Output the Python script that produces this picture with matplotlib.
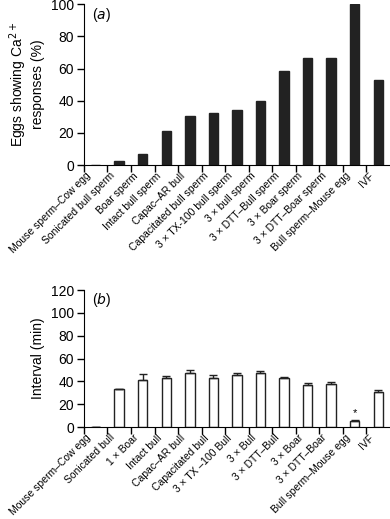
import numpy as np
import matplotlib.pyplot as plt

plt.rcParams['font.family'] = ['Liberation Sans', 'DejaVu Sans']
plt.rcParams['font.size'] = 10

# (a) Eggs showing Ca2+ responses (%)
labels_a = ['Mouse sperm–Cow egg', 'Sonicated bull sperm', 'Boar sperm',
            'Intact bull sperm', 'Capac–AR bull', 'Capacitated bull sperm',
            '3 × TX-100 bull sperm', '3 × bull sperm', '3 × DTT–Bull sperm',
            '3 × Boar sperm', '3 × DTT–Boar sperm', 'Bull sperm–Mouse egg', 'IVF']
pct_a = [0, 2.7, 6.6, 21.1, 30.4, 32.5, 34.2, 39.5, 58.2, 66.5, 66.5, 100, 52.6]

# (b) Interval (min)
labels_b = ['Mouse sperm–Cow egg', 'Sonicated bull', '1 × Boar', 'Intact bull',
            'Capac–AR bull', 'Capacitated bull', '3 × TX –100 Bull', '3 × Bull',
            '3 × DTT–Bull', '3 × Boar', '3 × DTT–Boar', 'Bull sperm–Mouse egg', 'IVF']
interval_b = [0, 33.3, 41, 43.3, 47.4, 42.7, 45.3, 47.7, 42.7, 36.5, 38, 5, 30.4]
err_b = [0, 0, 5.5, 1.7, 2.3, 2.6, 2.1, 1.7, 1.2, 1.8, 1.8, 1.1, 2.1]

x = np.arange(len(labels_a))

fig = plt.figure(figsize=(3.9, 5.19), dpi=100)
ax1 = fig.add_axes([0.215, 0.682, 0.785, 0.310])
ax2 = fig.add_axes([0.215, 0.177, 0.785, 0.264])


def style_axis(ax, labels):
    for s in ('top', 'right'):
        ax.spines[s].set_visible(False)
    ax.set_xlim(-0.5, len(x) - 0.5)
    ax.tick_params(axis='y', direction='out', length=5, width=1, pad=2)
    # tick marks between bars, labels a bit to the right of each mark
    ax.set_xticks(x - 0.5)
    ax.set_xticklabels([])
    ax.tick_params(axis='x', which='major', direction='out', length=5, width=1)
    ax.set_xticks(x - 0.12, minor=True)
    ax.set_xticklabels(labels, minor=True, rotation=45, ha='right', fontsize=7.5)
    ax.tick_params(axis='x', which='minor', length=0, pad=4)


ax1.bar(x, pct_a, width=0.4, color='#222222', edgecolor='#222222')
ax1.set_ylim(0, 100)
ax1.set_yticks(range(0, 101, 20))
style_axis(ax1, labels_a)
ax1.set_ylabel('Eggs showing Ca$^{2+}$\nresponses (%)', labelpad=4)
ax1.text(0.025, 0.99, r'($\it{a}$)', transform=ax1.transAxes, va='top')

ax2.bar(x, interval_b, width=0.4, color='white', edgecolor='#222222', linewidth=1,
        yerr=[np.zeros(len(err_b)), err_b],
        error_kw=dict(ecolor='#222222', capsize=3, elinewidth=1))
ax2.set_ylim(0, 120)
ax2.set_yticks(range(0, 121, 20))
style_axis(ax2, labels_b)
ax2.set_ylabel('Interval (min)', labelpad=4)
ax2.text(0.025, 0.99, r'($\it{b}$)', transform=ax2.transAxes, va='top')
ax2.text(11, interval_b[11] + err_b[11] + 2, '*', ha='center', va='bottom', fontsize=8)

fig.savefig('out.png', dpi=100)
